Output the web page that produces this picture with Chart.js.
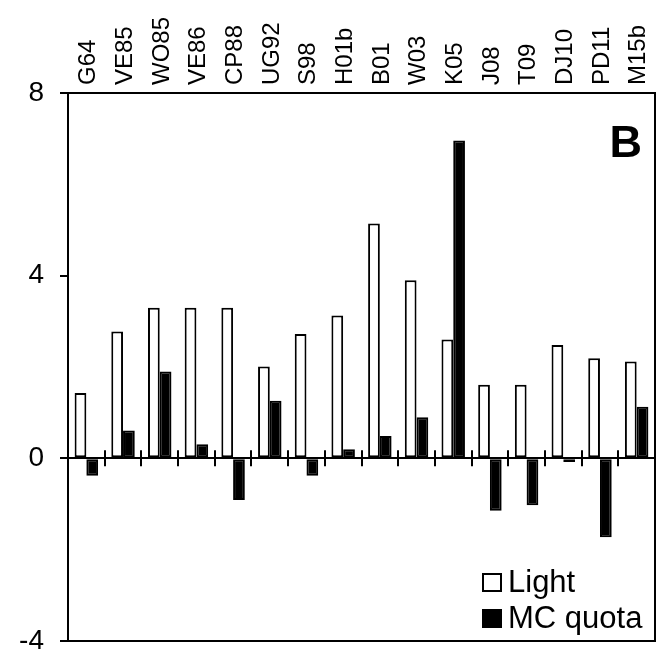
<!DOCTYPE html>
<html>
<head>
<meta charset="utf-8">
<script src="https://cdn.jsdelivr.net/npm/chart.js@4.4.1/dist/chart.umd.min.js"></script>
<style>
body { margin: 0; background: #fff; }
canvas { display: block; }
</style>
</head>
<body>
<canvas id="myChart" width="667" height="663"></canvas>
<script>
/***************************** data *****************************/
var sites = ['G64', 'VE85', 'WO85', 'VE86', 'CP88', 'UG92', 'S98', 'H01b', 'B01', 'W03', 'K05', 'J08', 'T09', 'DJ10', 'PD11', 'M15b']
var lightVals = [1.43, 2.78, 3.30, 3.30, 3.30, 2.01, 2.72, 3.13, 5.14, 3.90, 2.60, 1.61, 1.61, 2.48, 2.19, 2.12]
var mcVals = [-0.38, 0.61, 1.90, 0.31, -0.91, 1.26, -0.38, 0.20, 0.49, 0.90, 6.96, -1.15, -1.03, -0.08, -1.73, 1.13]
var seriesNames = ['Light', 'MC quota']
var yTicks = [-4, 0, 4, 8]
var panelLetter = 'B'

var FONT = "'Liberation Sans', Arial, sans-serif"

/***************************** 추가 그리기 (틀, 눈금, 범례, 글자) *****************************/
var extraDraw = {
	id: 'extraDraw',

	// 0선 위의 카테고리 경계 눈금
	afterDatasetsDraw: function(chart) {
		var ctx = chart.ctx
		var xs = chart.scales.x
		var y0 = chart.scales.y.getPixelForValue(0)
		ctx.save()
		ctx.strokeStyle = '#000'
		ctx.lineWidth = 2
		for (var i = 1; i < sites.length; i++) {
			var bx = Math.round(xs.getPixelForValue(i - 0.5))
			ctx.beginPath()
			ctx.moveTo(bx, y0 - 8)
			ctx.lineTo(bx, y0 + 8)
			ctx.stroke()
		}
		ctx.restore()
	},

	afterDraw: function(chart) {
		var ctx = chart.ctx
		var a = chart.chartArea
		ctx.save()

		// 테두리
		ctx.strokeStyle = '#000'
		ctx.lineWidth = 2
		ctx.strokeRect(a.left, a.top, a.right - a.left, a.bottom - a.top)

		// 패널 글자
		ctx.fillStyle = '#000'
		ctx.font = 'bold 45px ' + FONT
		ctx.textAlign = 'right'
		ctx.textBaseline = 'alphabetic'
		ctx.fillText(panelLetter, a.right - 13, a.top + 64)

		// 범례
		ctx.font = '31px ' + FONT
		ctx.textAlign = 'left'
		var rows = [a.bottom - 49, a.bottom - 13]
		chart.data.datasets.forEach(function(ds, k) {
			var by = rows[k]
			ctx.fillStyle = ds.backgroundColor
			ctx.fillRect(a.right - 172, by - 18, 18, 17)
			ctx.strokeStyle = '#000'
			ctx.lineWidth = 2
			ctx.strokeRect(a.right - 172, by - 18, 18, 17)
			ctx.fillStyle = '#000'
			ctx.fillText(ds.label, a.right - 147, by)
		})

		ctx.restore()
	}
}

/***************************** 차트 *****************************/
var chartArea = document.getElementById('myChart').getContext('2d')

var myChart = new Chart(chartArea, {
	type: 'bar',
	data: {
		labels: sites,
		datasets: [{
			label: seriesNames[0],
			data: lightVals,
			backgroundColor: '#ffffff',
			borderColor: '#000000',
			borderWidth: 2,
			borderSkipped: false
		}, {
			label: seriesNames[1],
			data: mcVals,
			backgroundColor: '#000000',
			borderColor: '#000000',
			borderWidth: 2,
			borderSkipped: false
		}]
	},
	options: {
		responsive: false,
		animation: false,
		devicePixelRatio: 1,
		categoryPercentage: 0.64,
		barPercentage: 1,
		layout: { padding: { top: 0, left: 0, right: 12, bottom: 22 } },
		plugins: {
			legend: { display: false },
			tooltip: { enabled: false }
		},
		scales: {
			x: {
				position: 'top',
				ticks: {
					color: '#000',
					font: { family: FONT, size: 24 },
					minRotation: 90,
					maxRotation: 90,
					autoSkip: false,
					padding: 8,
					// 세로 글자를 카테고리 가운데로
					labelOffset: 31
				},
				grid: { display: false, drawTicks: false },
				border: { color: '#000', width: 2 },
				afterFit: function(s) {
					s.height = 93
					s.paddingLeft = 0
					s.paddingRight = 0
				}
			},
			y: {
				min: yTicks[0],
				max: yTicks[yTicks.length - 1],
				afterBuildTicks: function(s) {
					s.ticks = yTicks.map(function(v) { return { value: v } })
				},
				ticks: {
					color: '#000',
					font: { family: FONT, size: 28 },
					padding: 16
				},
				grid: {
					color: function(c) { return c.tick && c.tick.value === 0 ? '#000' : 'rgba(0,0,0,0)' },
					lineWidth: 2,
					tickColor: '#000',
					tickLength: 8
				},
				border: { color: '#000', width: 2 },
				afterFit: function(s) {
					s.width = 68
					s.paddingTop = 0
					s.paddingBottom = 0
				}
			}
		}
	},
	plugins: [extraDraw]
})
</script>
</body>
</html>
